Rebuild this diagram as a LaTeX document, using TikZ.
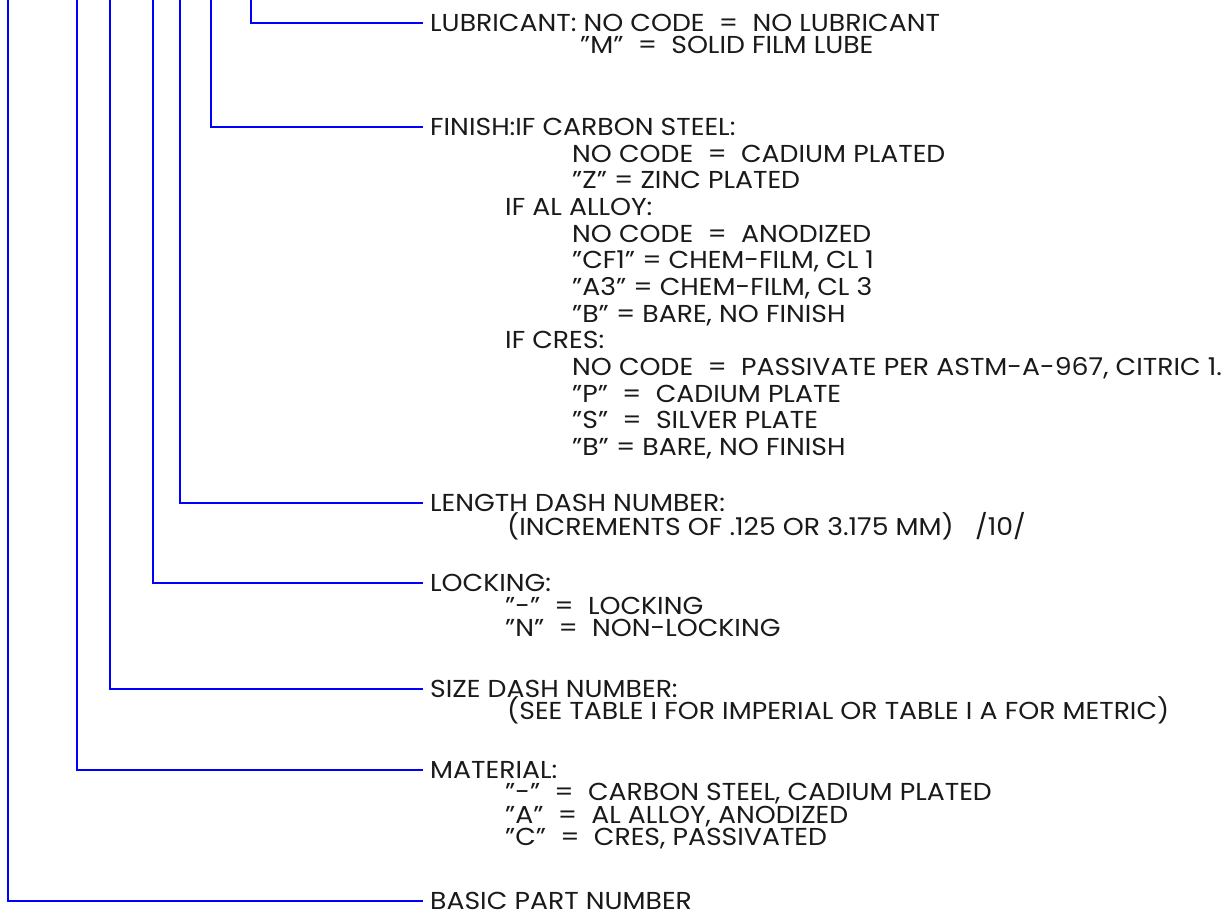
\documentclass[tikz,border=0pt]{standalone}
\usepackage{fontspec}
\setmainfont{Poppins}[FakeStretch=1.09]
\usepackage{tikz}
\definecolor{leadblue}{HTML}{0000FF}
\definecolor{notetext}{HTML}{1A1A1A}
\tikzset{
  leader/.style={draw=leadblue, line width=1.2pt},
  head/.style={anchor=west, inner xsep=7pt, inner ysep=0pt, text=notetext,
    font=\fontsize{24.5}{28}\selectfont},
  item/.style={anchor=base west, inner sep=0pt, text=notetext,
    font=\fontsize{24.5}{28}\selectfont}
}

\begin{document}
\begin{tikzpicture}[x=1pt, y=-1pt]
  \useasboundingbox (0,0) rectangle (1229,913);

  % callout headings
  \node[head] (lub) at (423,23) {LUBRICANT: NO CODE\ \ =\ \ NO LUBRICANT};
  \node[head] (fin) at (423,127) {FINISH:IF CARBON STEEL:};
  \node[head] (len) at (423,503) {LENGTH DASH NUMBER:};
  \node[head] (lock) at (423,583) {LOCKING:};
  \node[head] (size) at (423,689) {SIZE DASH NUMBER:};
  \node[head] (mat) at (423,770) {MATERIAL:};
  \node[head] (basic) at (423,901) {BASIC PART NUMBER};

  % sub lines
  \node[item] (lub-1) at ([shift={(157,22)}]lub.base west) {"M"\ \ =\ \ SOLID FILM LUBE};

  \foreach \dx/\txt [count=\i] in {
      149/{NO CODE\ \ =\ \ CADIUM PLATED},
      149/{"Z" = ZINC PLATED},
      82/{IF AL ALLOY:},
      149/{NO CODE\ \ =\ \ ANODIZED},
      149/{"CF1" = CHEM-FILM, CL 1},
      149/{"A3" = CHEM-FILM, CL 3},
      149/{"B" = BARE, NO FINISH},
      82/{IF CRES:},
      149/{NO CODE\ \ =\ \ PASSIVATE PER ASTM-A-967, CITRIC 1.},
      149/{"P"\ \ =\ \ CADIUM PLATE},
      149/{"S"\ \ =\ \ SILVER PLATE},
      149/{"B" = BARE, NO FINISH}}
    \node[item] (fin-\i) at ([shift={(\dx,\i*26.67)}]fin.base west) {\txt};

  \node[item] (len-1) at ([shift={(84,24)}]len.base west) {(INCREMENTS OF .125 OR 3.175 MM)\ \ \ /10/};

  \node[item] (lock-1) at ([shift={(82,22.5)}]lock.base west) {"-"\ \ =\ \ LOCKING};
  \node[item] (lock-2) at ([shift={(82,45)}]lock.base west) {"N"\ \ =\ \ NON-LOCKING};

  \node[item] (size-1) at ([shift={(84,22)}]size.base west) {(SEE TABLE I FOR IMPERIAL OR TABLE I A FOR METRIC)};

  \node[item] (mat-1) at ([shift={(82,22.5)}]mat.base west) {"-"\ \ =\ \ CARBON STEEL, CADIUM PLATED};
  \node[item] (mat-2) at ([shift={(82,45)}]mat.base west) {"A"\ \ =\ \ AL ALLOY, ANODIZED};
  \node[item] (mat-3) at ([shift={(82,67.5)}]mat.base west) {"C"\ \ =\ \ CRES, PASSIVATED};

  % leader lines
  \coordinate (lub-top) at (251,0);
  \coordinate (fin-top) at (211,0);
  \coordinate (len-top) at (180,0);
  \coordinate (lock-top) at (153,0);
  \coordinate (size-top) at (110,0);
  \coordinate (mat-top) at (77,0);
  \coordinate (basic-top) at (8,0);

  \draw[leader] (lub-top) |- (lub.west);
  \draw[leader] (fin-top) |- (fin.west);
  \draw[leader] (len-top) |- (len.west);
  \draw[leader] (lock-top) |- (lock.west);
  \draw[leader] (size-top) |- (size.west);
  \draw[leader] (mat-top) |- (mat.west);
  \draw[leader] (basic-top) |- (basic.west);
\end{tikzpicture}
\end{document}
